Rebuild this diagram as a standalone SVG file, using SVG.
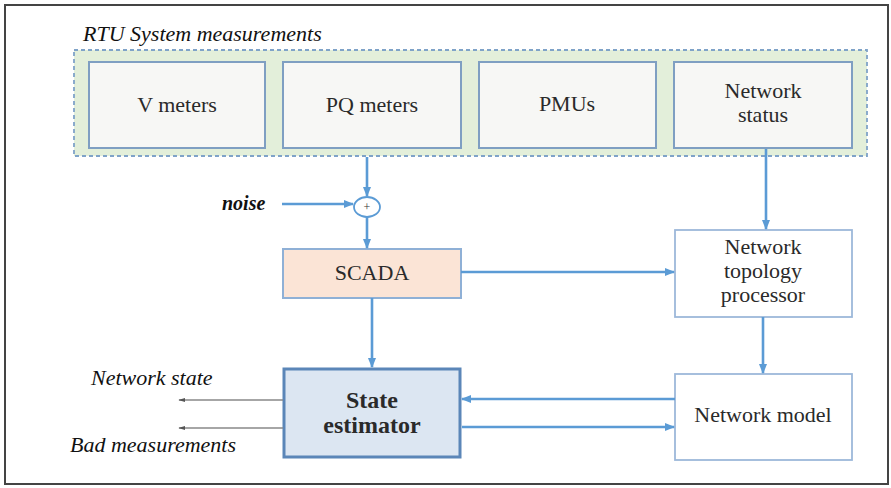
<svg xmlns="http://www.w3.org/2000/svg" width="891" height="488" viewBox="0 0 891 488" font-family="Liberation Serif, Tinos, Times New Roman, serif">
<defs>
<style>
.t{fill:#2a2a2a;text-anchor:middle;font-size:22px}
.it{fill:#111;font-style:italic;font-size:22px}
.meter{fill:#f7f7f5;stroke:#7f9fc2;stroke-width:2}
.box{fill:#ffffff;stroke:#9db8da;stroke-width:1.8}
.conn{stroke:#5b9bd5;stroke-width:2.6;fill:none}
.thin{stroke:#888;stroke-width:1.4;fill:none}
</style>
<marker id="ah" viewBox="0 0 10 10" refX="9" refY="5" markerWidth="4" markerHeight="4" orient="auto" markerUnits="strokeWidth">
<path d="M0,1 L10,5 L0,9 z" fill="#5b9bd5"/>
</marker>
<marker id="ahg" viewBox="0 0 10 10" refX="9" refY="5" markerWidth="5" markerHeight="5" orient="auto" markerUnits="strokeWidth">
<path d="M0,2 L10,5 L0,8 z" fill="#555"/>
</marker>
</defs>
<rect x="0" y="0" width="891" height="488" fill="#ffffff"/>
<rect x="5" y="5" width="883" height="479" fill="none" stroke="#444" stroke-width="2"/>

<g id="rtu">
<text class="it" x="83" y="41">RTU System measurements</text>
<rect x="74" y="50" width="793" height="106" fill="#e3efda" stroke="#7fa3c8" stroke-width="1.8" stroke-dasharray="4,3"/>
</g>
<g id="vmeters"><rect class="meter" x="89" y="62" width="176" height="86"/><text class="t" x="177" y="112">V meters</text></g>
<g id="pqmeters"><rect class="meter" x="283" y="62" width="178" height="86"/><text class="t" x="372" y="112">PQ meters</text></g>
<g id="pmus"><rect class="meter" x="479" y="62" width="177" height="86"/><text class="t" x="567" y="111">PMUs</text></g>
<g id="netstatus"><rect class="meter" x="674" y="62" width="178" height="86"/><text class="t" x="763" y="98">Network</text><text class="t" x="763" y="122">status</text></g>

<g id="sum">
<ellipse cx="367" cy="207" rx="13" ry="10" fill="#fff" stroke="#5b9bd5" stroke-width="1.8"/>
<text x="367" y="211" font-size="12" text-anchor="middle" fill="#333">+</text>
</g>
<g id="noise"><text class="it" x="222" y="210" font-size="20" font-weight="bold" style="font-size:20px">noise</text></g>

<g id="scada"><rect x="283" y="249" width="178" height="49" fill="#fbe4d6" stroke="#8fb0d6" stroke-width="2"/><text class="t" x="372" y="280">SCADA</text></g>
<g id="topology"><rect class="box" x="675" y="230" width="177" height="87"/><text class="t" x="763" y="254">Network</text><text class="t" x="763" y="278">topology</text><text class="t" x="763" y="302">processor</text></g>
<g id="netmodel"><rect class="box" x="675" y="374" width="177" height="86"/><text class="t" x="763" y="422">Network model</text></g>
<g id="estimator"><rect x="284" y="369" width="176" height="88" fill="#dce6f2" stroke="#5b86b8" stroke-width="3"/><text class="t" x="372" y="408" font-weight="bold" style="font-size:24px">State</text><text class="t" x="372" y="433" font-weight="bold" style="font-size:24px">estimator</text></g>

<g id="outputs">
<text class="it" x="91" y="385">Network state</text>
<text class="it" x="70" y="452">Bad measurements</text>
</g>

<g id="connectors">
<line class="conn" x1="367" y1="157" x2="367" y2="196" marker-end="url(#ah)"/>
<line class="conn" x1="282" y1="204" x2="353" y2="204" marker-end="url(#ah)"/>
<line class="conn" x1="367" y1="217" x2="367" y2="248" marker-end="url(#ah)"/>
<line class="conn" x1="461" y1="272" x2="674" y2="272" marker-end="url(#ah)"/>
<line class="conn" x1="766" y1="149" x2="766" y2="229" marker-end="url(#ah)"/>
<line class="conn" x1="763" y1="317" x2="763" y2="373" marker-end="url(#ah)"/>
<line class="conn" x1="372" y1="298" x2="372" y2="367" marker-end="url(#ah)"/>
<line class="conn" x1="675" y1="399" x2="462" y2="399" marker-end="url(#ah)"/>
<line class="conn" x1="462" y1="427" x2="674" y2="427" marker-end="url(#ah)"/>
<line class="thin" x1="283" y1="400" x2="179" y2="400" marker-end="url(#ahg)"/>
<line class="thin" x1="283" y1="428" x2="179" y2="428" marker-end="url(#ahg)"/>
</g>
</svg>
